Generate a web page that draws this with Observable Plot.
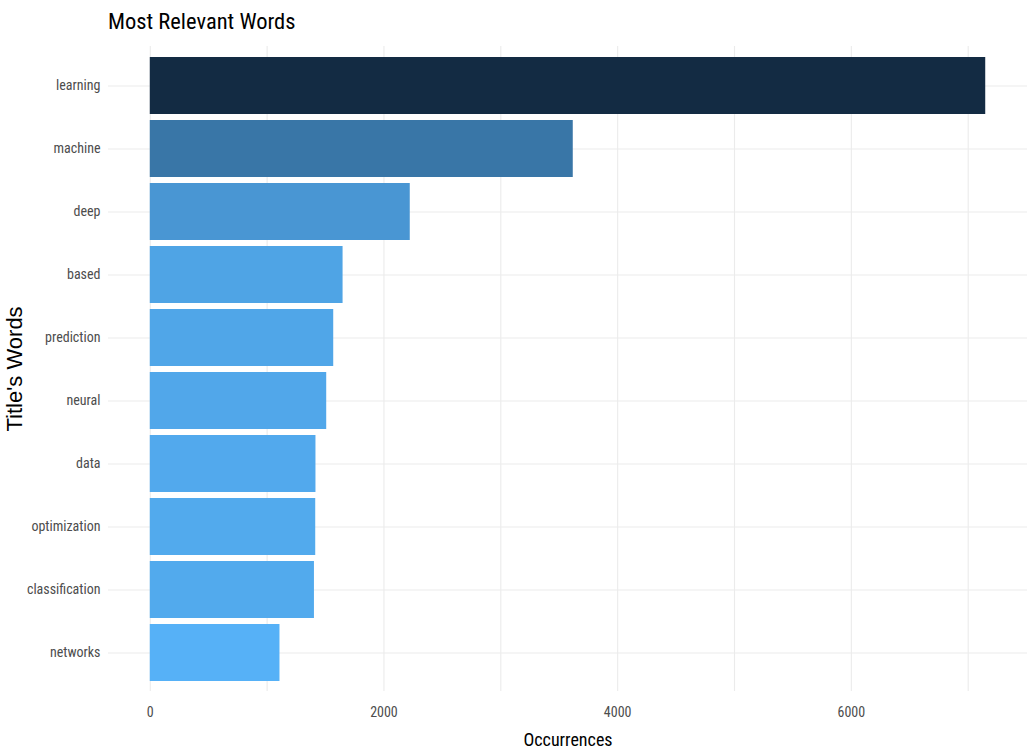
<!DOCTYPE html>
<html>
<head>
<meta charset="utf-8">
<script src="https://cdn.jsdelivr.net/npm/d3@7"></script>
<script src="https://cdn.jsdelivr.net/npm/@observablehq/plot@0.6"></script>
<style>
  html, body { margin: 0; padding: 0; background: #fff; }
  #wrap { position: relative; width: 1029px; height: 751px; overflow: hidden; }
  #title {
    height: 42px; box-sizing: border-box; padding: 9px 0 0 108px;
    font-family: "Liberation Sans Narrow", "Arial Narrow", "Roboto Condensed", "Liberation Sans", sans-serif;
    font-size: 22.5px; line-height: 24px; color: #000;
  }
  #chart svg { display: block; }
</style>
</head>
<body>
<div id="wrap">
  <div id="title">Most Relevant Words</div>
  <div id="chart"></div>
</div>
<script>
const words = ["learning", "machine", "deep", "based", "prediction", "neural", "data", "optimization", "classification", "networks"];
const counts = [7150, 3620, 2225, 1650, 1570, 1510, 1418, 1416, 1405, 1110];
const xTicks = [0, 2000, 4000, 6000];
const xGrid = [0, 1000, 2000, 3000, 4000, 5000, 6000, 7000];
const xLabel = "Occurrences";
const yLabel = "Title's Words";

const data = words.map((w, i) => ({word: w, n: counts[i]}));
const maxN = d3.max(counts), minN = d3.min(counts);
const narrow = '"Liberation Sans Narrow", "Arial Narrow", "Roboto Condensed", "Liberation Sans", sans-serif';

const chart = Plot.plot({
  width: 1029,
  height: 709,
  marginLeft: 108,
  marginRight: 2,
  marginTop: 4,
  marginBottom: 60,
  style: {fontFamily: narrow, fontSize: "14px", color: "#4d4d4d", background: "#fff"},
  x: {domain: [-0.05 * maxN, 1.05 * maxN], ticks: xTicks, tickSize: 0, tickPadding: 16, tickFormat: d3.format("d"), label: null},
  y: {domain: words, paddingInner: 0.1, paddingOuter: 0.15, tickSize: 0, tickPadding: 8, label: null},
  color: {type: "linear", domain: [minN, maxN], range: ["#56B1F7", "#132B43"], interpolate: d3.interpolateLab},
  marks: [
    Plot.ruleX(xGrid, {stroke: "#ebebeb", strokeWidth: 1.1}),
    Plot.ruleY(words, {y: d => d, stroke: "#ebebeb", strokeWidth: 1.1}),
    Plot.barX(data, {x: "n", y: "word", fill: "n"}),
    Plot.text([xLabel], {frameAnchor: "bottom", dy: 49, lineAnchor: "middle", textAnchor: "middle", fontSize: 18, fill: "#000", fontFamily: narrow}),
    Plot.text([yLabel], {frameAnchor: "left", dx: -94, rotate: -90, lineAnchor: "middle", textAnchor: "middle", fontSize: 22, fill: "#000", fontFamily: '"Liberation Sans", Arial, sans-serif'})
  ]
});
document.getElementById("chart").appendChild(chart);
</script>
</body>
</html>
